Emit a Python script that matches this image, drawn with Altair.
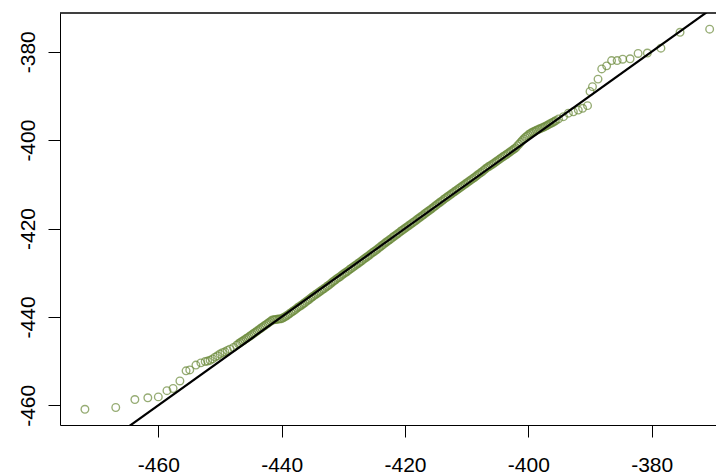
import altair as alt
import pandas as pd

# Q-Q plot: theoretical quantiles (x) vs sample quantiles (y)
lower_x = [-471.9, -466.9, -463.8, -461.7, -460.0, -458.6, -457.6, -456.5, -455.5, -454.9,
           -453.9, -453.1, -452.4, -452.0, -451.6, -451.2, -450.8, -450.4, -450.0, -449.6,
           -449.2, -448.8, -448.4, -447.8, -447.3]
lower_y = [-460.9, -460.5, -458.7, -458.3, -458.1, -456.7, -456.2, -454.5, -452.2, -452.0,
           -450.9, -450.4, -450.1, -450.0, -449.8, -449.5, -449.1, -448.8, -448.4, -448.1,
           -447.9, -447.6, -447.3, -446.9, -446.4]

band_x = [
    -447.0, -446.75, -446.5, -446.25, -446.0, -445.75, -445.5, -445.25, -445.0,
    -444.75, -444.5, -444.25, -444.0, -443.75, -443.5, -443.25, -443.0, -442.75, -442.5,
    -442.25, -442.0, -441.75, -441.5,
    -441.25, -441.0, -440.75, -440.5, -440.25, -440.0,
    -439.75, -439.5, -439.25, -439.0, -438.75, -438.5, -438.25, -438.0, -437.75, -437.5,
    -437.25, -437.0, -436.75, -436.5, -436.25, -436.0, -435.75, -435.5, -435.25, -435.0,
    -434.75, -434.5, -434.25, -434.0, -433.75, -433.5, -433.25, -433.0, -432.75, -432.5,
    -432.25, -432.0,
    -431.75, -431.5, -431.25, -431.0, -430.75, -430.5, -430.25, -430.0, -429.75, -429.5,
    -429.25, -429.0, -428.75, -428.5, -428.25, -428.0, -427.75, -427.5, -427.25, -427.0,
    -426.75, -426.5, -426.25, -426.0, -425.75, -425.5, -425.25, -425.0, -424.75, -424.5,
    -424.25, -424.0,
    -423.75, -423.5, -423.25, -423.0, -422.75, -422.5, -422.25, -422.0, -421.75, -421.5,
    -421.25, -421.0, -420.75, -420.5, -420.25, -420.0, -419.75, -419.5, -419.25, -419.0,
    -418.75, -418.5, -418.25, -418.0, -417.75, -417.5, -417.25, -417.0, -416.75, -416.5,
    -416.25, -416.0, -415.75, -415.5, -415.25, -415.0,
    -414.75, -414.5, -414.25, -414.0, -413.75, -413.5, -413.25, -413.0, -412.75, -412.5,
    -412.25, -412.0, -411.75, -411.5, -411.25, -411.0, -410.75, -410.5, -410.25, -410.0,
    -409.75, -409.5, -409.25, -409.0, -408.75, -408.5, -408.25, -408.0, -407.75, -407.5,
    -407.25, -407.0, -406.75, -406.5, -406.25, -406.0, -405.75, -405.5, -405.25, -405.0,
    -404.75, -404.5, -404.25, -404.0, -403.75, -403.5, -403.25, -403.0, -402.75, -402.5,
    -402.25, -402.0,
    -401.75, -401.5, -401.25, -401.0, -400.75, -400.5, -400.25, -400.0, -399.75, -399.5,
    -399.25, -399.0, -398.75, -398.5, -398.25, -398.0, -397.75, -397.5, -397.25, -397.0,
    -396.75, -396.5, -396.25, -396.0,
    -395.75, -395.5,
]
band_y = [
    -446.1, -445.85, -445.6, -445.4, -445.15, -444.9, -444.7, -444.45, -444.2,
    -443.95, -443.7, -443.45, -443.2, -442.95, -442.7, -442.45, -442.2, -441.95, -441.7,
    -441.45, -441.2, -440.95, -440.7,
    -440.65, -440.6, -440.55, -440.5, -440.45, -440.4,
    -440.2, -440.0, -439.8, -439.55, -439.3, -439.05, -438.8, -438.55, -438.3, -438.0,
    -437.75, -437.55, -437.3, -437.05, -436.8, -436.5, -436.25, -436.0, -435.7, -435.45,
    -435.2, -434.95, -434.7, -434.45, -434.2, -433.95, -433.7, -433.5, -433.2, -432.95,
    -432.7, -432.4,
    -432.1, -431.85, -431.6, -431.3, -431.1, -430.85, -430.55, -430.3, -430.05, -429.85,
    -429.6, -429.3, -429.05, -428.8, -428.55, -428.3, -428.05, -427.8, -427.55, -427.3,
    -427.0, -426.75, -426.5, -426.25, -426.0, -425.7, -425.45, -425.2, -424.95, -424.7,
    -424.4, -424.15,
    -423.85, -423.6, -423.3, -423.05, -422.8, -422.55, -422.3, -422.0, -421.75, -421.5,
    -421.25, -421.0, -420.7, -420.45, -420.2, -419.95, -419.7, -419.45, -419.2, -418.95,
    -418.7, -418.45, -418.2, -417.9, -417.65, -417.4, -417.15, -416.9, -416.6, -416.35,
    -416.1, -415.85, -415.6, -415.35, -415.05, -414.8,
    -414.5, -414.25, -414.0, -413.75, -413.45, -413.2, -412.95, -412.7, -412.45, -412.2,
    -411.95, -411.7, -411.45, -411.2, -410.95, -410.7, -410.45, -410.2, -409.95, -409.7,
    -409.45, -409.2, -408.95, -408.7, -408.45, -408.2, -407.9, -407.65, -407.4, -407.15,
    -406.85, -406.55, -406.3, -406.05, -405.85, -405.6, -405.4, -405.15, -404.9, -404.65,
    -404.4, -404.15, -403.9, -403.65, -403.45, -403.2, -402.95, -402.7, -402.45, -402.2,
    -401.95, -401.7,
    -401.25, -400.9, -400.5, -400.1, -399.75, -399.4, -399.1, -398.8, -398.55, -398.35,
    -398.15, -398.0, -397.8, -397.65, -397.5, -397.35, -397.2, -397.05, -396.9, -396.7,
    -396.5, -396.3, -396.15, -395.95,
    -395.75, -395.55,
]

upper_x = [-395.1, -394.3, -393.5, -392.7, -391.9, -391.2, -390.4, -390.0, -389.6, -388.7,
           -388.1, -387.3, -386.5, -385.6, -384.7, -383.5, -382.2, -380.7, -378.5, -375.4,
           -370.6]
upper_y = [-395.2, -394.7, -393.9, -393.6, -393.2, -392.8, -392.2, -389.0, -387.9, -386.2,
           -383.9, -383.2, -382.0, -382.0, -381.7, -381.6, -380.4, -380.3, -379.2, -375.6,
           -374.9]

# reference line (qqline) endpoints
line_x = [-480.0, -360.0]
line_y = [-480.0, -360.0]

x_ticks = [-460, -440, -420, -400, -380]
y_ticks = [-460, -440, -420, -400, -380]

all_x = lower_x + band_x + upper_x
all_y = lower_y + band_y + upper_y
pts = pd.DataFrame(list(zip(all_x, all_y)), columns=["theoretical", "sample"])
ln = pd.DataFrame(list(zip(line_x, line_y)), columns=["theoretical", "sample"])

W, H = 656, 412
xscale = alt.Scale(domain=[-475.94, -369.57], nice=False, zero=False)
yscale = alt.Scale(domain=[-464.46, -371.24], nice=False, zero=False)

xaxis = alt.Axis(values=x_ticks, title=None, grid=False, tickSize=12,
                 labelPadding=34, labelBaseline="alphabetic", labelFontSize=21,
                 labelExpr="toString(datum.value)", labelFlush=False)
yaxis = alt.Axis(values=y_ticks, title=None, grid=False, tickSize=12,
                 labelPadding=14, labelAngle=270, labelAlign="center",
                 labelBaseline="alphabetic", labelFontSize=21,
                 labelExpr="toString(datum.value)", labelFlush=False)

points = alt.Chart(pts).mark_point(
    shape="circle", filled=False, size=58, strokeWidth=1.35, color="#6B8A3A", clip=True
).encode(
    x=alt.X("theoretical:Q", scale=xscale, axis=xaxis),
    y=alt.Y("sample:Q", scale=yscale, axis=yaxis),
)

line = alt.Chart(ln).mark_line(color="black", strokeWidth=2.2, clip=True).encode(
    x=alt.X("theoretical:Q", scale=xscale),
    y=alt.Y("sample:Q", scale=yscale),
)

border = alt.Chart(ln).mark_rule(color="black", strokeWidth=1).encode(
    x=alt.value(0), x2=alt.value(W), y=alt.value(0)
)

chart = alt.layer(points, line, border).properties(
    width=W, height=H,
    padding={"left": 52, "top": 5, "right": 0, "bottom": 51},
    autosize=alt.AutoSizeParams(type="none"),
).configure_view(stroke=None).configure_axis(
    domainColor="black", tickColor="black", labelColor="black",
    labelFont="Liberation Sans", domainWidth=1, tickWidth=1,
)

chart.save("out.html", embed_options={"renderer": "svg", "actions": False})
